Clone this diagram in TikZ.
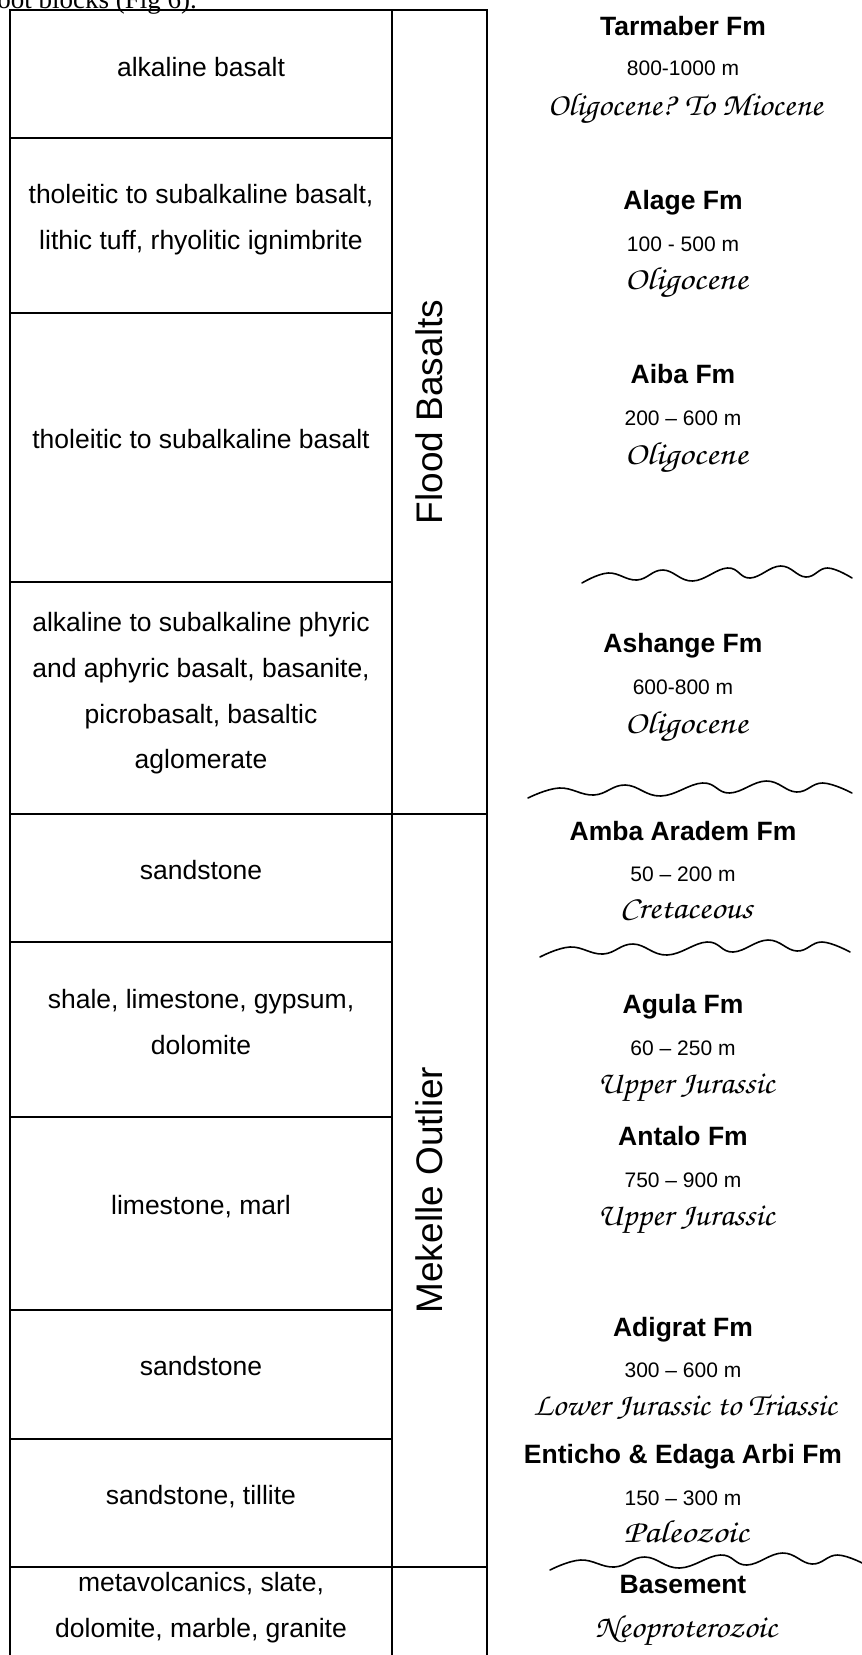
\documentclass[tikz,border=0pt]{standalone}
\usepackage{fontspec}
\usepackage{graphicx}
\setmainfont{Liberation Sans}
\newfontfamily\scriptfam{texgyrechorus-mediumitalic.otf}
\newfontfamily\bodyserif{Liberation Serif}
\newcommand{\fitw}[2]{\resizebox{#1}{\height}{#2}}
\newcommand{\unconf}[4]{% name, x0, ycentre, xscale
  \begin{scope}[shift={(#2,#3)}, xscale=#4]
    \draw[wavy] plot[smooth, tension=0.7] coordinates {(0,8) (30,-2) (63,5) (93,-5) (127,6) (167,-7) (193,3) (228,-9) (257,2) (282,-7) (310,3)};
    \coordinate (#1) at (0,0);
  \end{scope}}
\tikzset{
  rule/.style={line width=2pt, line cap=rect},
  wavy/.style={line width=1.6pt, line cap=round, line join=round},
  lith/.style={font=\fontsize{26.5}{30}\selectfont, anchor=base, inner sep=0pt},
  fmname/.style={font=\bfseries\fontsize{26.5}{30}\selectfont, anchor=base, inner sep=0pt},
  thk/.style={font=\fontsize{21}{24}\selectfont, anchor=base, inner sep=0pt},
  agelbl/.style={font=\scriptfam\fontsize{32}{34}\selectfont, anchor=base, inner sep=0pt},
  grp/.style={font=\fontsize{37}{40}\selectfont, rotate=90, anchor=base, inner sep=0pt},
}
\begin{document}
\begin{tikzpicture}[x=1pt,y=-1pt]
\useasboundingbox (0,0) rectangle (862,1655);
% clipped fragment of the text above
\begin{scope}
  \clip (0,0) rectangle (862,1655);
  \node[anchor=base east, inner sep=0pt, font=\bodyserif\fontsize{27}{30}\selectfont] (hdr) at (197,8) {root blocks (Fig 6).};
\end{scope}

% table frame
\draw[rule] (10,10) -- (487,10);
\draw[rule] (10,10) -- (10,1655);
\draw[rule] (392,10) -- (392,1655);
\draw[rule] (487,10) -- (487,1655);
\foreach \yy in {138,313,582,942,1117,1310,1439}
  \draw[rule] (10,\yy) -- (392,\yy);
\foreach \yy in {814,1567}
  \draw[rule] (10,\yy) -- (487,\yy);

% group labels
\node[grp] (fb) at (442,412) {Flood Basalts};
\node[grp] (mo) at (442,1190) {Mekelle Outlier};

% lithology texts
\node[lith] (l1) at (201,76) {alkaline basalt};
\node[lith] (l2a) at (201,203) {tholeitic to subalkaline basalt,};
\node[lith] (l2b) at (201,249) {lithic tuff, rhyolitic ignimbrite};
\node[lith] (l3) at (201,448) {tholeitic to subalkaline basalt};
\node[lith] (l4a) at (201,631) {alkaline to subalkaline phyric};
\node[lith] (l4b) at (201,677) {and aphyric basalt, basanite,};
\node[lith] (l4c) at (201,723) {picrobasalt, basaltic};
\node[lith] (l4d) at (201,768) {aglomerate};
\node[lith] (l5) at (201,879) {sandstone};
\node[lith] (l6a) at (201,1008) {shale, limestone, gypsum,};
\node[lith] (l6b) at (201,1054) {dolomite};
\node[lith] (l7) at (201,1214) {limestone, marl};
\node[lith] (l8) at (201,1375) {sandstone};
\node[lith] (l9) at (201,1504) {sandstone, tillite};
\node[lith] (l10a) at (201,1591) {metavolcanics, slate,};
\node[lith] (l10b) at (201,1637) {dolomite, marble, granite};

% formations
\node[fmname] (f1) at (683,35) {Tarmaber Fm};
\node[thk] (t1) at (683,75) {800-1000 m};
\node[agelbl] (a1) at (685,115) {\fitw{275pt}{Oligocene? To Miocene}};

\node[fmname] (f2) at (683,209) {Alage Fm};
\node[thk] (t2) at (683,251) {100 - 500 m};
\node[agelbl] (a2) at (686,289) {\fitw{123pt}{Oligocene}};

\node[fmname] (f3) at (683,383) {Aiba Fm};
\node[thk] (t3) at (683,425) {200 -- 600 m};
\node[agelbl] (a3) at (686,464) {\fitw{123pt}{Oligocene}};

\node[fmname] (f4) at (683,652) {Ashange Fm};
\node[thk] (t4) at (683,694) {600-800 m};
\node[agelbl] (a4) at (686,733) {\fitw{123pt}{Oligocene}};

\node[fmname] (f5) at (683,840) {Amba Aradem Fm};
\node[thk] (t5) at (683,881) {50 -- 200 m};
\node[agelbl] (a5) at (686,918) {\fitw{133pt}{Cretaceous}};

\node[fmname] (f6) at (683,1013) {Agula Fm};
\node[thk] (t6) at (683,1055) {60 -- 250 m};
\node[agelbl] (a6) at (686,1093) {\fitw{177pt}{Upper Jurassic}};

\node[fmname] (f7) at (683,1145) {Antalo Fm};
\node[thk] (t7) at (683,1187) {750 -- 900 m};
\node[agelbl] (a7) at (686,1225) {\fitw{177pt}{Upper Jurassic}};

\node[fmname] (f8) at (683,1336) {Adigrat Fm};
\node[thk] (t8) at (683,1377) {300 -- 600 m};
\node[agelbl] (a8) at (685,1415) {\fitw{303pt}{Lower Jurassic to Triassic}};

\node[fmname] (f9) at (683,1463) {Enticho \& Edaga Arbi Fm};
\node[thk] (t9) at (683,1505) {150 -- 300 m};
\node[agelbl] (a9) at (686,1542) {\fitw{125pt}{Paleozoic}};

\node[fmname] (f10) at (683,1593) {Basement};
\node[agelbl] (a10) at (686,1637) {\fitw{182pt}{Neoproterozoic}};

% unconformities
\unconf{u1}{582}{575}{0.871}
\unconf{u2}{528}{790}{1.045}
\unconf{u3}{540}{949}{1.0}
\unconf{u4}{550}{1562}{1.02}
\end{tikzpicture}
\end{document}
